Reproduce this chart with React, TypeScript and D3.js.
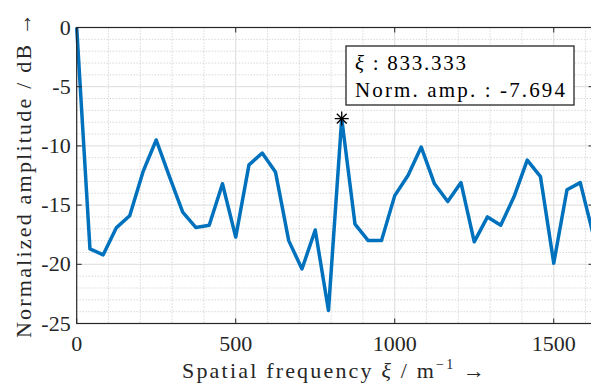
import React, { useEffect } from "react";
import * as d3 from "d3";

// spatial frequency step = 833.333 / 20
const step = 1000 / 24;
const amplitudes = [
  0, -18.7, -19.2, -16.9, -15.9, -12.2, -9.5, -12.6, -15.6, -16.9,
  -16.7, -13.2, -17.7, -11.6, -10.6, -12.2, -18.0, -20.4, -17.1, -23.9,
  -7.694, -16.6, -18.0, -18.0, -14.2, -12.5, -10.1, -13.2, -14.7, -13.1,
  -18.1, -16.0, -16.7, -14.3, -11.2, -12.6, -19.9, -13.7, -13.1, -17.6,
];
const freqs = amplitudes.map((_, i) => i * step);
const xTicks = [0, 500, 1000, 1500];
const yTicks = [0, -5, -10, -15, -20, -25];
const peakIndex = 20;

const W = 591;
const H = 383;
const margin = { left: 76.7, top: 27.5, right: -2.5, bottom: 59.5 };
const font = "Liberation Serif";

export default function App() {
  useEffect(() => {
    document.body.style.margin = "0";
  }, []);

  const x = d3
    .scaleLinear()
    .domain([0, d3.max(freqs) as number])
    .range([margin.left, W - margin.right]);
  const y = d3.scaleLinear().domain([-25, 0]).range([H - margin.bottom, margin.top]);

  const line = d3
    .line<number>()
    .x((_, i) => x(freqs[i]))
    .y((d) => y(d));

  const minorX = d3.range(100, 1700, 100).filter((v) => v % 500 !== 0);
  const minorY = d3.range(-24, 0, 1).filter((v) => v % 5 !== 0);
  const [x0, x1] = x.range();
  const [y0, y1] = y.range();

  const px = x(freqs[peakIndex]);
  const py = y(amplitudes[peakIndex]);
  const s = 7;

  return (
    <svg width={W} height={H} style={{ display: "block" }}>
      <style>{`text, tspan { font-family: "Liberation Serif", serif !important; }`}</style>
      {/* minor grid */}
      <g stroke="#b8b8b8" strokeWidth={0.8} strokeDasharray="1,2">
        {minorX.map((v) => (
          <line key={"mx" + v} x1={x(v)} x2={x(v)} y1={y1} y2={y0} />
        ))}
        {minorY.map((v) => (
          <line key={"my" + v} x1={x0} x2={x1} y1={y(v)} y2={y(v)} />
        ))}
      </g>
      {/* major grid */}
      <g stroke="#dcdcdc" strokeWidth={1}>
        {xTicks.slice(1).map((v) => (
          <line key={"gx" + v} x1={x(v)} x2={x(v)} y1={y1} y2={y0} />
        ))}
        {yTicks.slice(1, -1).map((v) => (
          <line key={"gy" + v} x1={x0} x2={x1} y1={y(v)} y2={y(v)} />
        ))}
      </g>
      <path
        d={line(amplitudes) ?? ""}
        fill="none"
        stroke="#0072BD"
        strokeWidth={3.5}
        strokeLinejoin="round"
      />
      {/* axes box */}
      <rect x={x0} y={y1} width={x1 - x0} height={y0 - y1} fill="none" stroke="#262626" strokeWidth={1.2} />
      <g stroke="#262626" strokeWidth={1}>
        {xTicks.map((v) => (
          <g key={"tx" + v}>
            <line x1={x(v)} x2={x(v)} y1={y0} y2={y0 - 5} />
            <line x1={x(v)} x2={x(v)} y1={y1} y2={y1 + 5} />
          </g>
        ))}
        {yTicks.map((v) => (
          <g key={"ty" + v}>
            <line x1={x0} x2={x0 + 5} y1={y(v)} y2={y(v)} />
            <line x1={x1} x2={x1 - 5} y1={y(v)} y2={y(v)} />
          </g>
        ))}
      </g>
      {xTicks.map((v) => (
        <text key={"lx" + v} x={x(v)} y={y0 + 27} textAnchor="middle" fontFamily={font} fontSize={22} fill="#262626">
          {v}
        </text>
      ))}
      {yTicks.map((v) => (
        <text key={"ly" + v} x={x0 - 6} y={y(v) + 7} textAnchor="end" fontFamily={font} fontSize={22} fill="#262626">
          {v}
        </text>
      ))}
      {/* axis labels */}
      <text x={182} y={378} fontFamily={font} fontSize={22} fill="#262626" textLength={303} lengthAdjust="spacing">
        Spatial frequency <tspan fontStyle="italic">ξ</tspan> / m
        <tspan fontSize={14} dy={-9}>−1</tspan>
        <tspan dy={9}> →</tspan>
      </text>
      <text
        transform="translate(31,338) rotate(-90)"
        fontFamily={font}
        fontSize={22}
        fill="#262626"
        textLength={325}
        lengthAdjust="spacing"
      >
        Normalized amplitude  / dB →
      </text>
      {/* peak marker */}
      <g stroke="#000" strokeWidth={1.3}>
        <line x1={px - s} x2={px + s} y1={py} y2={py} />
        <line x1={px} x2={px} y1={py - s} y2={py + s} />
        <line x1={px - s * 0.7} x2={px + s * 0.7} y1={py - s * 0.7} y2={py + s * 0.7} />
        <line x1={px - s * 0.7} x2={px + s * 0.7} y1={py + s * 0.7} y2={py - s * 0.7} />
      </g>
      {/* data tip */}
      <rect x={346} y={46} width={228} height={59} fill="#fff" stroke="#262626" strokeWidth={1.3} />
      <text x={355} y={70} fontFamily={font} fontSize={21} fill="#000" textLength={111} lengthAdjust="spacing">
        <tspan fontStyle="italic">ξ</tspan> : {freqs[peakIndex].toFixed(3)}
      </text>
      <text x={355} y={97} fontFamily={font} fontSize={21} fill="#000" textLength={210} lengthAdjust="spacing">
        Norm. amp. : {amplitudes[peakIndex].toFixed(3)}
      </text>
    </svg>
  );
}
